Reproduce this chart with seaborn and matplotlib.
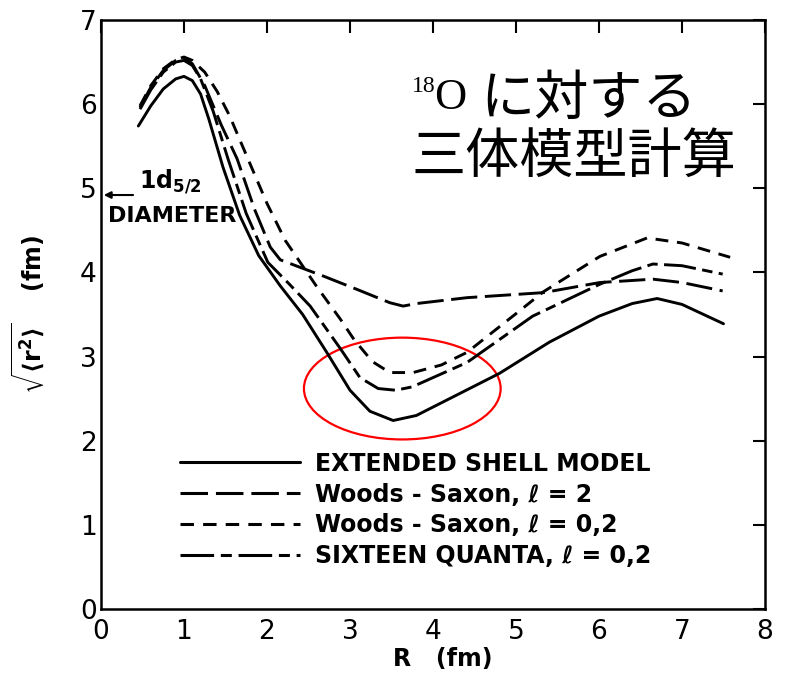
import numpy as np
import pandas as pd
import matplotlib
matplotlib.use("Agg")
import matplotlib.pyplot as plt
from matplotlib.patches import Ellipse
import seaborn as sns

# ---- data ----
labels = ["EXTENDED SHELL MODEL", "Woods - Saxon, \u2113 = 2",
          "Woods - Saxon, \u2113 = 0,2", "SIXTEEN QUANTA, \u2113 = 0,2"]

r_shell = [0.45, 0.6, 0.75, 0.9, 1.0, 1.1, 1.2, 1.3, 1.47, 1.67, 1.9, 2.16, 2.43, 2.72, 3.0,
           3.24, 3.52, 3.8, 4.2, 4.8, 5.4, 6.0, 6.4, 6.7, 7.0, 7.5]
v_shell = [5.74, 5.98, 6.18, 6.3, 6.33, 6.28, 6.12, 5.82, 5.25, 4.68, 4.2, 3.84, 3.5, 3.05, 2.6,
           2.35, 2.24, 2.3, 2.5, 2.8, 3.17, 3.48, 3.63, 3.69, 3.62, 3.39]

r_ws2 = [0.47, 0.6, 0.75, 0.9, 1.0, 1.1, 1.25, 1.45, 1.64, 1.85, 2.04, 2.16, 2.4, 2.67, 3.08,
         3.48, 3.64, 3.8, 4.41, 5.33, 6.01, 6.65, 7.0, 7.49]
v_ws2 = [5.96, 6.2, 6.4, 6.52, 6.54, 6.48, 6.22, 5.75, 5.35, 4.75, 4.3, 4.15, 4.06, 3.96, 3.80,
         3.64, 3.60, 3.63, 3.70, 3.76, 3.88, 3.92, 3.88, 3.78]

r_ws02 = [0.47, 0.6, 0.75, 0.9, 1.0, 1.1, 1.25, 1.4, 1.55, 1.77, 2.0, 2.22, 2.6, 2.88, 3.05,
          3.27, 3.48, 3.76, 4.1, 4.41, 5.0, 5.33, 6.01, 6.58, 7.0, 7.58]
v_ws02 = [5.98, 6.22, 6.42, 6.53, 6.56, 6.52, 6.38, 6.15, 5.86, 5.35, 4.82, 4.38, 3.83, 3.45,
          3.2, 2.94, 2.81, 2.81, 2.9, 3.05, 3.51, 3.77, 4.19, 4.41, 4.35, 4.18]

r_sq = [0.47, 0.6, 0.75, 0.9, 1.0, 1.1, 1.2, 1.35, 1.53, 1.75, 2.01, 2.27, 2.52, 2.88, 3.12,
        3.34, 3.55, 3.75, 4.0, 4.41, 5.2, 6.01, 6.4, 6.65, 7.0, 7.49]
v_sq = [5.94, 6.17, 6.38, 6.5, 6.52, 6.46, 6.3, 5.92, 5.35, 4.7, 4.12, 3.86, 3.6, 3.1, 2.75,
        2.62, 2.6, 2.64, 2.75, 2.93, 3.48, 3.86, 4.02, 4.1, 4.08, 3.98]

x_ticks = [0, 1, 2, 3, 4, 5, 6, 7, 8]
y_ticks = [0, 1, 2, 3, 4, 5, 6, 7]

frames = []
for lab, xs, ys in zip(labels, [r_shell, r_ws2, r_ws02, r_sq], [v_shell, v_ws2, v_ws02, v_sq]):
    frames.append(pd.DataFrame({"R": xs, "rms": ys, "model": lab}))
df = pd.concat(frames, ignore_index=True)

sns.set_style("white")
plt.rcParams["font.family"] = ["DejaVu Sans"]
plt.rcParams["mathtext.default"] = "regular"
for k in ["text.color", "axes.labelcolor", "xtick.color", "ytick.color", "axes.edgecolor"]:
    plt.rcParams[k] = "black"

fig = plt.figure(figsize=(7.86, 6.78), dpi=100)
ax = fig.add_axes([101/786, 1 - 609/678, 664/786, 589/678])

dashes = {labels[0]: "", labels[1]: (9, 2.6), labels[2]: (4.4, 3.0),
          labels[3]: (11, 2.2, 3.6, 2.2)}
sns.lineplot(data=df, x="R", y="rms", style="model", style_order=labels, dashes=dashes,
             color="black", linewidth=2.1, sort=False, estimator=None, ax=ax, legend=True)

ax.set_xlim(0, 8)
ax.set_ylim(0, 7)
ax.set_xticks(x_ticks)
ax.set_yticks(y_ticks)
ax.tick_params(direction="in", length=9, width=1.5, top=True, right=True,
               labelsize=19)
ax.tick_params(axis="x", pad=7)
ax.tick_params(axis="y", pad=3)
for s in ax.spines.values():
    s.set_linewidth(1.8)
    s.set_color("black")

ax.set_xlabel("R   (fm)", fontsize=17, fontweight="bold")
ax.xaxis.set_label_coords(0.515, -0.065)
ax.set_ylabel(r"$\sqrt{\langle r^2 \rangle}$    (fm)", fontsize=17, fontweight="bold", labelpad=24)

handles, labs = ax.get_legend_handles_labels()
leg = ax.legend(handles, labs, loc="upper left", bbox_to_anchor=(0.119, 0.267),
                frameon=False, handlelength=5.1, handletextpad=0.6, labelspacing=0.29,
                borderpad=0, borderaxespad=0, prop={"size": 17, "weight": "bold"})
for h in leg.get_lines():
    h.set_linewidth(2.2)

# 1d5/2 diameter marker
ax.annotate("", xy=(0.0, 4.92), xytext=(0.42, 4.92),
            arrowprops=dict(arrowstyle="-|>", color="black", lw=1.5, mutation_scale=10))
ax.text(0.46, 5.08, r"1d$_{5/2}$", fontsize=17, fontweight="bold", va="center", ha="left")
ax.text(0.08, 4.67, "DIAMETER", fontsize=16, fontweight="bold", va="center", ha="left")

# red ellipse highlight
ax.add_patch(Ellipse((3.63, 2.62), 2.37, 1.21, fill=False, edgecolor="red", lw=1.6))

# Japanese annotation
def fx(px):
    return px / 786
def fy(py):
    return 1 - py / 678
fig.text(fx(412), fy(86), "18", fontsize=17, family="Liberation Serif", va="center", ha="left")
fig.text(fx(434), fy(98), "O", fontsize=32, family="Liberation Serif", va="center", ha="left")
fig.text(fx(480), fy(99), "に対する", fontsize=39, family=["Noto Sans CJK JP", "DejaVu Sans"],
         va="center", ha="left")
fig.text(fx(411), fy(157), "三体模型計算", fontsize=39, family=["Noto Sans CJK JP", "DejaVu Sans"],
         va="center", ha="left")

fig.savefig("out.png", dpi=100)
